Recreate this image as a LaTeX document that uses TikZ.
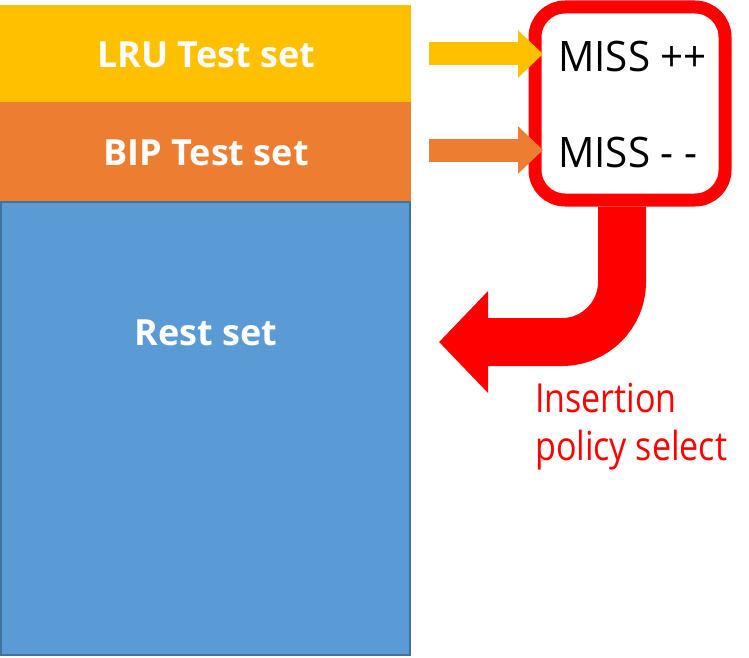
\documentclass[tikz,border=0pt]{standalone}
\usepackage{fontspec}
\setmainfont{Open Sans}
\newfontfamily\narrowsans[FakeStretch=0.85]{Open Sans}
\newfontfamily\misssans[FakeStretch=0.96]{Open Sans}
\usetikzlibrary{arrows.meta}
\definecolor{lruyellow}{HTML}{FFC000}
\definecolor{biporange}{HTML}{ED7D31}
\definecolor{restblue}{HTML}{5B9BD5}
\definecolor{restedge}{HTML}{41719C}
\definecolor{pure red}{HTML}{FF0000}
\tikzset{
  setbox/.style={minimum width=411pt, inner sep=0pt, outer sep=0pt},
  settext/.style={text=white, font=\fontsize{36}{40}\selectfont\bfseries},
  misstext/.style={anchor=base west, inner sep=0pt, font=\misssans\fontsize{42}{48}\selectfont},
  redtext/.style={anchor=base west, inner sep=0pt, text=pure red, font=\narrowsans\fontsize{40}{48}\selectfont},
  fatarrow/.style={line width=23pt, -{Triangle[length=25pt,width=46pt]}}
}
\begin{document}
\begin{tikzpicture}[x=1pt,y=-1pt]
\useasboundingbox (0,0) rectangle (749,658);

% the three sets
\node[setbox, fill=lruyellow, minimum height=97pt] (lru) at (205.5,53.5) {};
\node[setbox, fill=biporange, minimum height=99pt] (bip) at (205.5,151.5) {};
\node[setbox, fill=restblue, draw=restedge, line width=2pt, minimum width=409pt, minimum height=453pt] (rest) at (205.5,428.5) {};
\node[settext] (lrutxt) at (206,55) {LRU Test set};
\node[settext] (biptxt) at (206,153) {BIP Test set};
\node[settext] (resttxt) at (206,333) {Rest set};

% miss counter
\node[draw=pure red, line width=13pt, rounded corners=30pt, fill=white, minimum width=190pt, minimum height=193pt] (cnt) at (630,103.5) {};
\node[misstext] (missup) at (558,72) {MISS ++};
\node[misstext] (missdown) at (558,167) {MISS - -};

\coordinate (lrufrom) at (429,54);
\coordinate (lruto) at (543,54);
\coordinate (bipfrom) at (429,150);
\coordinate (bipto) at (543,150);
\draw[fatarrow, lruyellow] (lrufrom) -- (lruto);
\draw[fatarrow, biporange] (bipfrom) -- (bipto);

% policy select
\coordinate (back) at (439,342);
\draw[pure red, line width=48pt, rounded corners=60pt, -{Triangle[length=49pt,width=99pt]}]
  ([xshift=-8pt]cnt.south) |- (back);
\node[redtext] (ins) at (535,412) {Insertion};
\node[redtext] (pol) at (535,460) {policy select};
\end{tikzpicture}
\end{document}
